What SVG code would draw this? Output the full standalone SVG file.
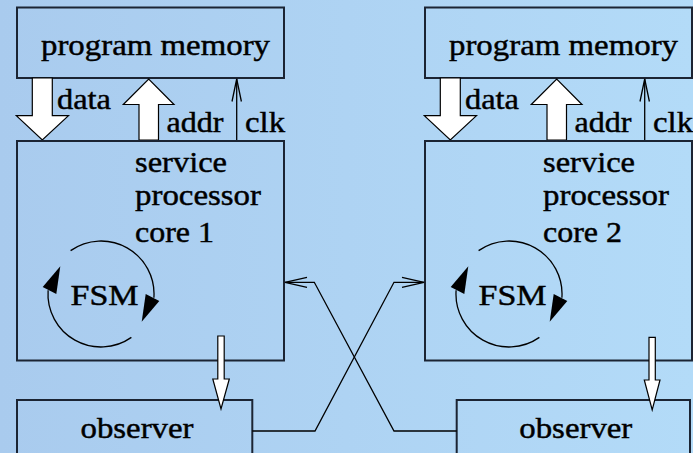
<svg xmlns="http://www.w3.org/2000/svg" width="693" height="453" viewBox="0 0 693 453">
<defs>
<linearGradient id="bg" x1="0" y1="0" x2="1" y2="0">
<stop offset="0" stop-color="#a9cbee"/>
<stop offset="1" stop-color="#b3dbf8"/>
</linearGradient>
<style>
.box{fill:none;stroke:#1b2433;stroke-width:2}
.fat{fill:#ffffff;stroke:#000;stroke-width:1.2;stroke-linejoin:miter}
.ln{fill:none;stroke:#000;stroke-width:1.3}
.head{fill:#000;stroke:none}
text{font-family:"Liberation Serif","Times New Roman",serif;font-size:30px;fill:#000;stroke:#000;stroke-width:0.45}
</style>
<g id="unit">
<rect class="box" x="17" y="7.5" width="267" height="70.5"/>
<text x="41" y="54.5" textLength="229" lengthAdjust="spacingAndGlyphs">program memory</text>
<polygon class="fat" points="32.3,78 52.3,78 52.3,115.7 68.5,115.7 42.3,140 16.3,115.7 32.3,115.7"/>
<text x="57" y="109.3" textLength="54" lengthAdjust="spacingAndGlyphs">data</text>
<polygon class="fat" points="139,140 158.5,140 158.5,104.5 174,104.5 148.7,79 123.3,104.5 139,104.5"/>
<text x="166.5" y="131.7" textLength="57" lengthAdjust="spacingAndGlyphs">addr</text>
<line class="ln" x1="236.7" y1="140" x2="236.7" y2="79"/>
<polyline class="ln" points="232,101.5 236.7,79 241.4,101.5"/>
<text x="245" y="131.7" textLength="40" lengthAdjust="spacingAndGlyphs">clk</text>
<rect class="box" x="17" y="141" width="267" height="219.5"/>
<text x="135" y="172.3" textLength="92" lengthAdjust="spacingAndGlyphs">service</text>
<text x="135" y="205" textLength="126" lengthAdjust="spacingAndGlyphs">processor</text>
<path class="ln" d="M70.6,250.6 A53,53 0 0 1 153.9,297.7"/>
<path class="ln" d="M131.4,337.4 A53,53 0 0 1 48.1,290.3"/>
<polygon class="head" points="145.7,294 159.3,301 141.7,321.7"/>
<polygon class="head" points="56.3,294 42.7,287 60.3,266.3"/>
<text x="70.5" y="305" textLength="68" lengthAdjust="spacingAndGlyphs">FSM</text>
</g>
</defs>
<rect x="0" y="0" width="693" height="453" fill="url(#bg)" id="bgrect"/>
<g id="core1">
<use href="#unit"/>
<text x="135" y="241.7" textLength="79" lengthAdjust="spacingAndGlyphs">core 1</text>
</g>
<g id="core2" transform="translate(408,0)">
<use href="#unit"/>
<text x="135" y="241.7" textLength="79" lengthAdjust="spacingAndGlyphs">core 2</text>
</g>
<g id="observer1">
<rect class="box" x="17" y="400" width="235.3" height="70"/>
<text x="80.5" y="438" textLength="113" lengthAdjust="spacingAndGlyphs">observer</text>
</g>
<g id="observer2">
<rect class="box" x="456.7" y="400" width="233.3" height="70"/>
<text x="519.3" y="438" textLength="113" lengthAdjust="spacingAndGlyphs">observer</text>
</g>
<g id="connectors">
<polygon class="fat" points="217.8,336 224.2,336 224.2,379 229.3,379 221,409 212.8,379 217.8,379"/>
<polygon class="fat" points="649,337.3 655.3,337.3 655.3,380 660,380 652.2,410 644.3,380 649,380"/>
<polyline class="ln" points="252.3,431 315,431 394,282.3 424,282.3"/>
<polyline class="ln" points="402,277.3 424,282.3 402,287.3"/>
<polyline class="ln" points="456.7,431 394,431 314.3,282.3 285,282.3"/>
<polyline class="ln" points="307,277.3 285,282.3 307,287.3"/>
</g>
</svg>
